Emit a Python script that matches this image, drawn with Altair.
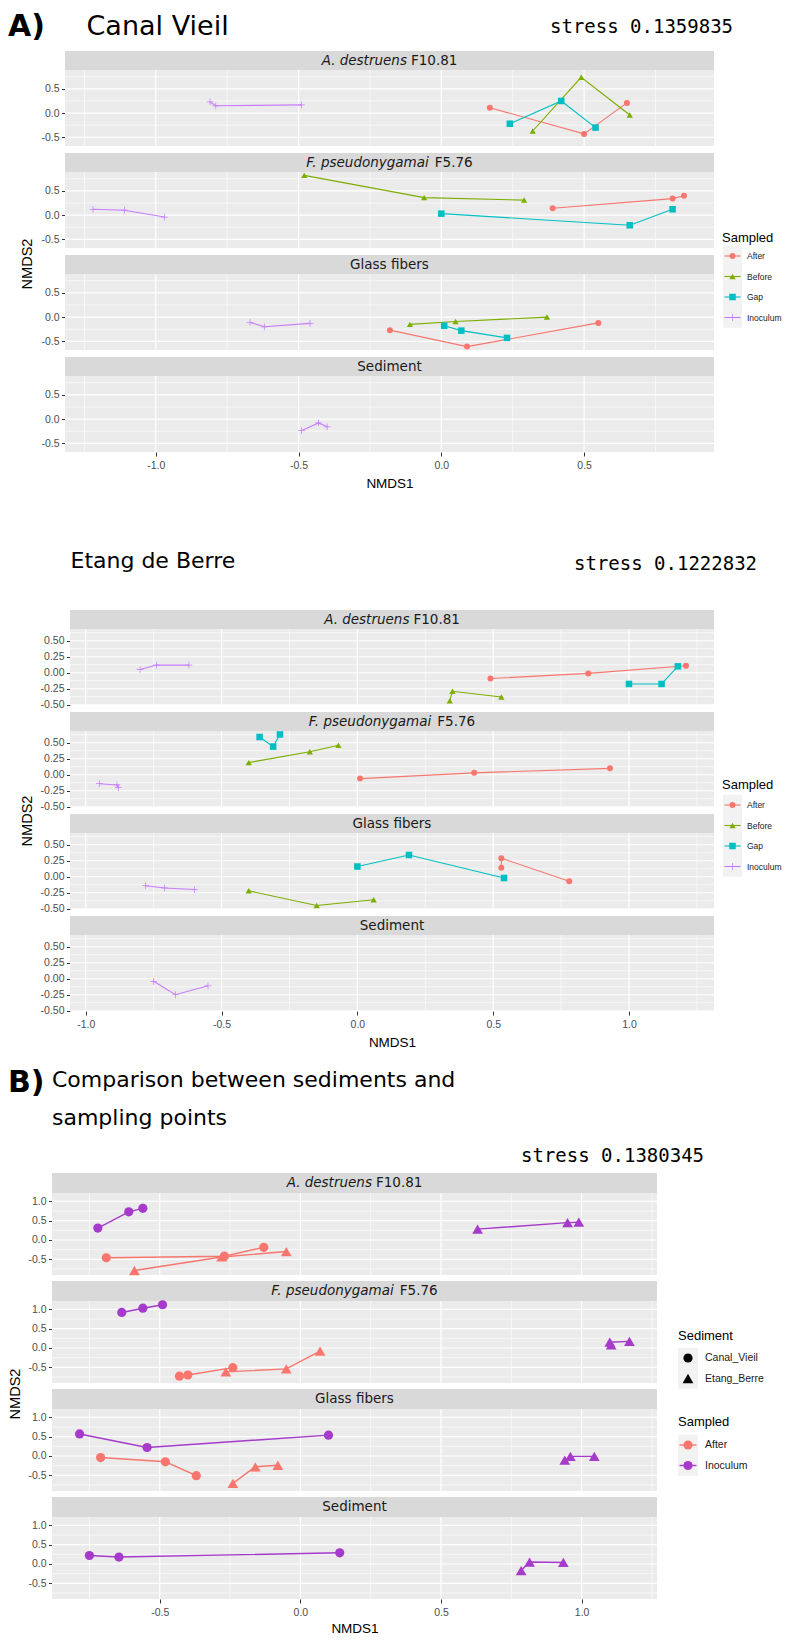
import altair as alt
import pandas as pd

# ---------------------------------------------------------------- data
FACETS = ["A. destruens F10.81", "F. pseudonygamai F5.76", "Glass fibers", "Sediment"]
STRIP_ITALIC = ["A. destruens", "F. pseudonygamai", "", ""]
STRIP_PLAIN = ["F10.81", "F5.76", "Glass fibers", "Sediment"]

SAMPLED_4 = ["After", "Before", "Gap", "Inoculum"]
COLORS_4 = ["#F8766D", "#7CAE00", "#00BFC4", "#C77CFF"]
SAMPLED_2 = ["After", "Inoculum"]
COLORS_2 = ["#F8766D", "#A53ACB"]
SEDIMENTS = ["Canal_Vieil", "Etang_Berre"]

TITLE_A = "Canal Vieil"
TITLE_B = "Etang de Berre"
TITLE_C = ["Comparison between sediments and", "sampling points"]
STRESS = ["stress 0.1359835", "stress 0.1222832", "stress 0.1380345"]

# Canal Vieil: (NMDS1 values, NMDS2 values) in path order
cv_ades = {
    "After": ([0.17, 0.50, 0.65], [0.11, -0.43, 0.21]),
    "Before": ([0.32, 0.49, 0.66], [-0.37, 0.74, -0.04]),
    "Gap": ([0.24, 0.42, 0.54], [-0.22, 0.25, -0.30]),
    "Inoculum": ([-0.81, -0.79, -0.49], [0.23, 0.15, 0.17]),
}
cv_fpse = {
    "After": ([0.39, 0.81, 0.85], [0.14, 0.34, 0.40]),
    "Before": ([-0.48, -0.06, 0.29], [0.82, 0.36, 0.31]),
    "Gap": ([0.00, 0.66, 0.81], [0.03, -0.21, 0.12]),
    "Inoculum": ([-1.22, -1.11, -0.97], [0.12, 0.10, -0.04]),
}
cv_glass = {
    "After": ([-0.18, 0.09, 0.55], [-0.27, -0.61, -0.12]),
    "Before": ([-0.11, 0.05, 0.37], [-0.15, -0.09, 0.00]),
    "Gap": ([0.01, 0.07, 0.23], [-0.18, -0.28, -0.43]),
    "Inoculum": ([-0.67, -0.62, -0.46], [-0.11, -0.20, -0.13]),
}
cv_sed = {
    "Inoculum": ([-0.49, -0.43, -0.40], [-0.24, -0.08, -0.16]),
}

# Etang de Berre
eb_ades = {
    "After": ([0.49, 0.85, 1.21], [-0.09, -0.01, 0.11]),
    "Before": ([0.34, 0.35, 0.53], [-0.44, -0.29, -0.38]),
    "Gap": ([1.00, 1.12, 1.18], [-0.175, -0.175, 0.10]),
    "Inoculum": ([-0.80, -0.74, -0.62], [0.05, 0.12, 0.12]),
}
eb_fpse = {
    "After": ([0.01, 0.43, 0.93], [-0.06, 0.03, 0.10]),
    "Before": ([-0.40, -0.175, -0.07], [0.19, 0.36, 0.46]),
    "Gap": ([-0.36, -0.31, -0.285], [0.59, 0.44, 0.63]),
    "Inoculum": ([-0.95, -0.885, -0.88], [-0.14, -0.16, -0.20]),
}
eb_glass = {
    "After": ([0.53, 0.53, 0.78], [0.14, 0.29, -0.07]),
    "Before": ([-0.40, -0.15, 0.06], [-0.22, -0.45, -0.36]),
    "Gap": ([0.00, 0.19, 0.54], [0.16, 0.34, -0.02]),
    "Inoculum": ([-0.78, -0.71, -0.60], [-0.14, -0.175, -0.20]),
}
eb_sed = {
    "Inoculum": ([-0.75, -0.67, -0.55], [-0.04, -0.25, -0.11]),
}

# Comparison between sediments: (Sampled, Sediment)
cmp_ades = {
    ("After", "Canal_Vieil"): ([-0.69, -0.27, -0.13], [-0.46, -0.42, -0.19]),
    ("After", "Etang_Berre"): ([-0.59, -0.28, -0.05], [-0.79, -0.44, -0.30]),
    ("Inoculum", "Canal_Vieil"): ([-0.72, -0.61, -0.56], [0.31, 0.73, 0.82]),
    ("Inoculum", "Etang_Berre"): ([0.63, 0.95, 0.99], [0.28, 0.45, 0.46]),
}
cmp_fpse = {
    ("After", "Canal_Vieil"): ([-0.43, -0.40, -0.24], [-0.73, -0.70, -0.51]),
    ("After", "Etang_Berre"): ([-0.265, -0.05, 0.07], [-0.62, -0.54, -0.08]),
    ("Inoculum", "Canal_Vieil"): ([-0.635, -0.56, -0.49], [0.92, 1.03, 1.12]),
    ("Inoculum", "Etang_Berre"): ([1.105, 1.10, 1.17], [0.08, 0.15, 0.17]),
}
cmp_glass = {
    ("After", "Canal_Vieil"): ([-0.71, -0.48, -0.37], [-0.04, -0.15, -0.51]),
    ("After", "Etang_Berre"): ([-0.24, -0.16, -0.08], [-0.71, -0.28, -0.24]),
    ("Inoculum", "Canal_Vieil"): ([-0.785, -0.545, 0.10], [0.57, 0.22, 0.54]),
    ("Inoculum", "Etang_Berre"): ([0.94, 0.96, 1.045], [-0.11, -0.01, -0.01]),
}
cmp_sed = {
    ("Inoculum", "Canal_Vieil"): ([-0.75, -0.645, 0.14], [0.22, 0.18, 0.29]),
    ("Inoculum", "Etang_Berre"): ([0.785, 0.815, 0.935], [-0.17, 0.05, 0.04]),
}

# axis domains and breaks
A_XDOM, A_YDOM = [-1.318, 0.955], [-0.68, 0.89]
A_XMAJ, A_XMIN = [-1.0, -0.5, 0.0, 0.5], [-1.25, -0.75, -0.25, 0.25, 0.75]
A_YMAJ, A_YMIN = [-0.5, 0.0, 0.5], [-0.25, 0.25, 0.75]
B_XDOM, B_YDOM = [-1.058, 1.313], [-0.504, 0.684]
B_XMAJ, B_XMIN = [-1.0, -0.5, 0.0, 0.5, 1.0], [-0.75, -0.25, 0.25, 0.75, 1.25]
B_YMAJ, B_YMIN = [-0.5, -0.25, 0.0, 0.25, 0.5], [-0.375, -0.125, 0.125, 0.375, 0.625]
C_XDOM, C_YDOM = [-0.883, 1.268], [-0.907, 1.217]
C_XMAJ, C_XMIN = [-0.5, 0.0, 0.5, 1.0], [-0.75, -0.25, 0.25, 0.75, 1.25]
C_YMAJ, C_YMIN = [-0.5, 0.0, 0.5, 1.0], [-0.75, -0.25, 0.25, 0.75]

# ---------------------------------------------------------------- style / layout
SANS = "Liberation Sans"
DJV = "DejaVu Sans"
MONO = "DejaVu Sans Mono"
PANEL_BG = "#EBEBEB"
STRIP_BG = "#D9D9D9"
KEY_BG = "#F2F2F2"
TICK_C = "#333333"
LABEL_C = "#4D4D4D"
GAP = 26
MAJOR_W, MINOR_W = 1.2, 0.6
MINUS_FIX = "replace(datum.label, '\u2212', '-')"
CROSS = ("M-1,-0.11L-0.11,-0.11L-0.11,-1L0.11,-1L0.11,-0.11L1,-0.11L1,0.11"
         "L0.11,0.11L0.11,1L-0.11,1L-0.11,0.11L-1,0.11Z")

ONE = pd.DataFrame({"k": [0]})

DJV_W = {' ': .318, '.': .318, 'A': .684, 'F': .575, 'G': .775, 'S': .635, 'a': .613,
         'b': .635, 'd': .635, 'e': .615, 'f': .352, 'g': .635, 'i': .278, 'l': .278,
         'm': .974, 'n': .634, 'o': .612, 'p': .635, 'r': .411, 's': .521, 't': .392,
         'u': .634, 'y': .592}


def text_w(s, size):
    return sum(DJV_W.get(c, .636) for c in s) * size


def vtext(text, x, y, size, font=SANS, weight="normal", style="normal", align="left",
          baseline="alphabetic", angle=0, color="black"):
    return alt.Chart(ONE).mark_text(
        text=text, font=font, fontSize=size, fontWeight=weight, fontStyle=style,
        align=align, baseline=baseline, angle=angle, color=color,
    ).encode(x=alt.value(x), y=alt.value(y))


def build_df(panels):
    rows = []
    for fi, groups in enumerate(panels):
        for key, (xs, ys) in groups.items():
            samp, sed = key if isinstance(key, tuple) else (key, "-")
            for i, (x, y) in enumerate(zip(xs, ys)):
                rows.append({"facet": FACETS[fi], "Sampled": samp, "Sediment": sed,
                             "x": x, "y": y, "ord": i})
    return pd.DataFrame(rows)


STRIP_SIZE = 13.5


def strip_texts(fi, cx, sh):
    y = -sh / 2
    it, pl = STRIP_ITALIC[fi], STRIP_PLAIN[fi]
    if not it:
        return [vtext(pl, cx, y, STRIP_SIZE, font=DJV, align="center", baseline="middle",
                      color="#1A1A1A")]
    total = text_w(it + " " + pl, STRIP_SIZE)
    x0 = cx - total / 2
    x1 = x0 + text_w(it + " ", STRIP_SIZE)
    return [vtext(it, x0, y, STRIP_SIZE, font=DJV, style="italic", baseline="middle",
                  color="#1A1A1A"),
            vtext(pl, x1, y, STRIP_SIZE, font=DJV, baseline="middle", color="#1A1A1A")]


def panel(cfg, fi, df, last, extras=()):
    L, W, H, SH = cfg["L"], cfg["W"], cfg["H"], cfg["SH"]
    xs = alt.Scale(domain=cfg["xdom"], range=[L, W], nice=False, zero=False)
    ys = alt.Scale(domain=cfg["ydom"], nice=False, zero=False)
    xaxis = None
    if last:
        xaxis = alt.Axis(values=cfg["xmaj"], grid=False, domain=False, tickColor=TICK_C,
                         tickSize=4, labelColor=LABEL_C, labelFont=SANS, labelFontSize=10.5,
                         labelPadding=4, labelFlush=False, labelOverlap=False, format=".1f",
                         labelExpr=MINUS_FIX, title="NMDS1", titleFont=SANS, titleFontSize=13.5,
                         titleFontWeight="normal", titleColor="black",
                         titlePadding=cfg["tpad"])
    yaxis = alt.Axis(values=cfg["ymaj"], grid=False, domain=False, tickColor=TICK_C,
                     tickSize=3.5, labelColor=LABEL_C, labelFont=SANS, labelFontSize=10.5,
                     labelPadding=2.5, labelFlush=False, labelOverlap=False, format=cfg["yfmt"],
                     labelExpr=MINUS_FIX, title=None, offset=-L)
    layers = [
        alt.Chart(ONE).mark_rect(color=PANEL_BG).encode(
            x=alt.value(L), x2=alt.value(W), y=alt.value(0), y2=alt.value(H)),
        alt.Chart(ONE).mark_rect(color=STRIP_BG).encode(
            x=alt.value(L), x2=alt.value(W), y=alt.value(-SH), y2=alt.value(0)),
    ]
    layers += strip_texts(fi, (L + W) / 2, SH)
    for vals, sw in ((cfg["xmin"], MINOR_W), (cfg["xmaj"], MAJOR_W)):
        layers.append(alt.Chart(pd.DataFrame({"v": vals})).mark_rule(
            color="white", strokeWidth=sw).encode(
            x=alt.X("v:Q", scale=xs, axis=xaxis), y=alt.value(0), y2=alt.value(H)))
    for vals, sw in ((cfg["ymin"], MINOR_W), (cfg["ymaj"], MAJOR_W)):
        layers.append(alt.Chart(pd.DataFrame({"v": vals})).mark_rule(
            color="white", strokeWidth=sw).encode(
            y=alt.Y("v:Q", scale=ys, axis=yaxis), x=alt.value(L), x2=alt.value(W)))

    sub = df[df["facet"] == FACETS[fi]]
    X = alt.X("x:Q", scale=xs, axis=xaxis)
    Y = alt.Y("y:Q", scale=ys, axis=yaxis)
    C = alt.Color("Sampled:N", scale=cfg["cscale"], legend=None)
    sf = cfg["sfield"] + ":N"
    layers.append(alt.Chart(sub).mark_line(strokeWidth=cfg["lw"]).encode(
        x=X, y=Y, color=C, detail="Sediment:N", order=alt.Order("ord:Q")))
    layers.append(alt.Chart(sub).mark_point(filled=True, opacity=1).encode(
        x=X, y=Y, color=C,
        shape=alt.Shape(sf, scale=cfg["sscale"], legend=None),
        size=alt.Size(sf, scale=cfg["zscale"], legend=None)))
    layers += list(extras)
    return alt.layer(*layers).properties(width=W, height=H)


def legend_block(title, cats, field, tx, ty, row0, step, kx0, kx1, lx, cscale=None,
                 sscale=None, zscale=None, line_w=1.1, fixed_shape=None, fixed_color=None,
                 label_size=9.5):
    leg = pd.DataFrame({field: cats, "i": list(range(len(cats)))})
    leg["ypix"] = row0 + leg["i"] * step
    Yp = alt.Y("ypix:Q", scale=None)
    out = [
        alt.Chart(ONE).mark_rect(color=KEY_BG).encode(
            x=alt.value(kx0), x2=alt.value(kx1),
            y=alt.value(row0 - step / 2), y2=alt.value(row0 + (len(cats) - 0.5) * step)),
        vtext(title, tx, ty, 13),
    ]
    if cscale is not None:
        col = alt.Color(field + ":N", scale=cscale, legend=None)
        out.append(alt.Chart(leg).mark_rule(strokeWidth=line_w).encode(
            x=alt.value(kx0 + 1.5), x2=alt.value(kx1 - 1.5), y=Yp, color=col))
    else:
        col = alt.value(fixed_color)
    if sscale is not None:
        shp = alt.Shape(field + ":N", scale=sscale, legend=None)
        siz = alt.Size(field + ":N", scale=zscale, legend=None)
    else:
        shp = alt.value(fixed_shape[0])
        siz = alt.value(fixed_shape[1])
    out.append(alt.Chart(leg).mark_point(filled=True, opacity=1).encode(
        x=alt.value((kx0 + kx1) / 2), y=Yp, color=col, shape=shp, size=siz))
    out.append(alt.Chart(leg).mark_text(align="left", baseline="middle", font=SANS,
                                        fontSize=label_size, color="#1A1A1A").encode(
        x=alt.value(lx), y=Yp, text=field + ":N"))
    return out


# ---------------------------------------------------------------- configs
c4 = alt.Scale(domain=SAMPLED_4, range=COLORS_4)
s4 = alt.Scale(domain=SAMPLED_4, range=["circle", "triangle-up", "square", CROSS])
z4 = alt.Scale(domain=SAMPLED_4, range=[36, 46, 34, 95])
c2 = alt.Scale(domain=SAMPLED_2, range=COLORS_2)
s2 = alt.Scale(domain=SEDIMENTS, range=["circle", "triangle-up"])
z2 = alt.Scale(domain=SEDIMENTS, range=[85, 115])

CFG_A = dict(L=13, W=662, H=76, SH=19, xdom=A_XDOM, ydom=A_YDOM, xmaj=A_XMAJ, xmin=A_XMIN,
             ymaj=A_YMAJ, ymin=A_YMIN, yfmt=".1f", cscale=c4, sscale=s4, zscale=z4,
             sfield="Sampled", lw=1.1, tpad=6)
CFG_B = dict(L=18, W=662, H=76, SH=19, xdom=B_XDOM, ydom=B_YDOM, xmaj=B_XMAJ, xmin=B_XMIN,
             ymaj=B_YMAJ, ymin=B_YMIN, yfmt=".2f", cscale=c4, sscale=s4, zscale=z4,
             sfield="Sampled", lw=1.1, tpad=6)
CFG_C = dict(L=0, W=605, H=82, SH=20, xdom=C_XDOM, ydom=C_YDOM, xmaj=C_XMAJ, xmin=C_XMIN,
             ymaj=C_YMAJ, ymin=C_YMIN, yfmt=".1f", cscale=c2, sscale=s2, zscale=z2,
             sfield="Sediment", lw=1.4, tpad=4)

df_a = build_df([cv_ades, cv_fpse, cv_glass, cv_sed])
df_b = build_df([eb_ades, eb_fpse, eb_glass, eb_sed])
df_c = build_df([cmp_ades, cmp_fpse, cmp_glass, cmp_sed])


def legend_4(ty, row0):
    return legend_block("Sampled", SAMPLED_4, "Sampled", tx=670, ty=ty, row0=row0, step=20.5,
                        kx0=671, kx1=690, lx=695, cscale=c4, sscale=s4, zscale=z4,
                        label_size=8.5)


legend_c = (
    legend_block("Sediment", SEDIMENTS, "Sediment", tx=626, ty=39, row0=57, step=20.5,
                 kx0=626, kx1=646, lx=653, sscale=s2, zscale=z2, fixed_color="black",
                 label_size=10.5)
    + legend_block("Sampled", SAMPLED_2, "Sampled", tx=626, ty=125, row0=144, step=20.5,
                   kx0=626, kx1=646, lx=653, cscale=c2, line_w=1.4,
                   fixed_shape=("circle", 85), label_size=10.5)
)

# headers
head_a = alt.layer(
    vtext("A)", -44, 28, 30, font=DJV, weight="bold"),
    vtext(TITLE_A, 34.5, 27, 27, font=DJV),
    vtext(STRESS[0], 498, 25, 19, font=MONO),
).properties(width=662, height=36)

head_b = alt.layer(
    vtext(TITLE_B, 18.5, 90, 22, font=DJV),
    vtext(STRESS[1], 522, 91.5, 19, font=MONO),
).properties(width=662, height=125)

head_c = alt.layer(
    vtext("B)", -44, 55, 30, font=DJV, weight="bold"),
    vtext(TITLE_C[0], 0, 50, 22, font=DJV),
    vtext(TITLE_C[1], 0, 88, 22, font=DJV),
    vtext(STRESS[2], 469, 125, 19, font=MONO),
).properties(width=605, height=130)


def nmds2(x, y):
    return vtext("NMDS2", x, y, 14.5, angle=270, align="center", baseline="middle")


rows = [head_a]
for fi in range(4):
    extra = legend_4(69.5, 84) + [nmds2(-24.5, 92)] if fi == 1 else []
    rows.append(panel(CFG_A, fi, df_a, fi == 3, extra))
rows.append(head_b)
for fi in range(4):
    extra = legend_4(58, 74) + [nmds2(-24.5, 90)] if fi == 1 else []
    rows.append(panel(CFG_B, fi, df_b, fi == 3, extra))
rows.append(head_c)
for fi in range(4):
    extra = legend_c + [nmds2(-36, 93)] if fi == 1 else []
    rows.append(panel(CFG_C, fi, df_c, fi == 3, extra))

chart = alt.vconcat(*rows, spacing=GAP, bounds="flush").resolve_scale(
    x="independent", y="independent", color="independent", shape="independent",
    size="independent",
).configure_view(strokeWidth=0).properties(padding=0)

chart.save("out.html", embed_options={"renderer": "svg", "actions": False})
